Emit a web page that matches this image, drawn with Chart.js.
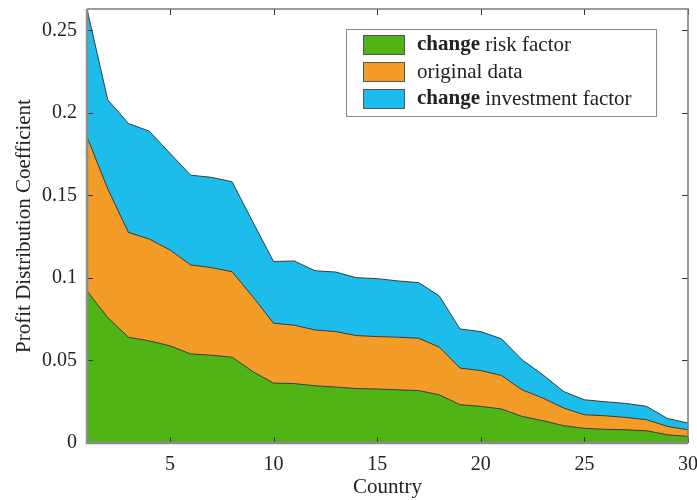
<!DOCTYPE html>
<html>
<head>
<meta charset="utf-8">
<script src="https://cdn.jsdelivr.net/npm/chart.js@4/dist/chart.umd.min.js"></script>
<style>
  html, body { margin: 0; padding: 0; background: #fff; }
</style>
</head>
<body>
<canvas id="c" width="697" height="500"></canvas>
<script>
const countries = [1,2,3,4,5,6,7,8,9,10,11,12,13,14,15,16,17,18,19,20,21,22,23,24,25,26,27,28,29,30];
const changeRiskFactor = [0.0921,0.076,0.0641,0.0619,0.0589,0.054,0.0532,0.052,0.0433,0.0363,0.036,0.0347,0.0339,0.033,0.0327,0.0322,0.0318,0.0292,0.0232,0.0222,0.0206,0.0161,0.0135,0.0105,0.0089,0.0083,0.008,0.0074,0.005,0.004];
const originalData = [0.1855,0.154,0.1276,0.1236,0.117,0.1079,0.1063,0.1038,0.0887,0.0726,0.0714,0.0685,0.0675,0.0651,0.0645,0.0641,0.0635,0.0581,0.0454,0.0439,0.0409,0.0322,0.0272,0.0212,0.0171,0.0165,0.0155,0.0141,0.0101,0.008];
const changeInvestmentFactor = [0.263,0.208,0.1936,0.189,0.1756,0.1623,0.161,0.1583,0.134,0.110,0.1103,0.1044,0.1036,0.1002,0.0996,0.0982,0.0972,0.0891,0.0691,0.0675,0.0631,0.0504,0.0413,0.0312,0.0262,0.025,0.024,0.0222,0.0149,0.0121];
const xTicks = [5,10,15,20,25,30];
const yTicks = [0,0.05,0.1,0.15,0.2,0.25];
const legendBold = ['change', '', 'change'];
const legendRest = ['risk factor', 'original data', 'investment factor'];
const seriesNames = ['change risk factor','original data','change investment factor'];
const colors = ['#50B414', '#F39C27', '#1CBDEA'];

const pts = arr => arr.map((v,i)=>({x:countries[i], y:v}));
const FAM = '"Liberation Serif", "Times New Roman", serif';
const font = { family: FAM };

const framePlugin = {
  id: 'frame',
  afterDraw(chart) {
    const {ctx, chartArea: a, scales} = chart;
    ctx.save();
    const L = 6;
    ctx.strokeStyle = '#333';
    ctx.lineWidth = 1;
    ctx.beginPath();
    xTicks.forEach(t => {
      const px = Math.round(scales.x.getPixelForValue(t)) + 0.5;
      ctx.moveTo(px, a.bottom); ctx.lineTo(px, a.bottom - L);
      ctx.moveTo(px, a.top); ctx.lineTo(px, a.top + L);
    });
    yTicks.forEach(t => {
      const py = Math.round(scales.y.getPixelForValue(t)) + 0.5;
      ctx.moveTo(a.left, py); ctx.lineTo(a.left + L, py);
      ctx.moveTo(a.right, py); ctx.lineTo(a.right - L, py);
    });
    ctx.stroke();
    ctx.strokeStyle = '#7a7a7a';
    ctx.lineWidth = 1.5;
    ctx.beginPath();
    ctx.moveTo(a.left, a.top); ctx.lineTo(a.right, a.top); ctx.lineTo(a.right, a.bottom);
    ctx.stroke();
    ctx.strokeStyle = '#8c8c8c';
    ctx.lineWidth = 2.5;
    ctx.beginPath();
    ctx.moveTo(a.left, a.top); ctx.lineTo(a.left, a.bottom); ctx.lineTo(a.right, a.bottom);
    ctx.stroke();

    // legend box
    const bx = 346.5, by = 29.5, bw = 310, bh = 87;
    ctx.fillStyle = '#fff';
    ctx.fillRect(bx, by, bw, bh);
    ctx.strokeStyle = '#8a8a8a';
    ctx.lineWidth = 1;
    ctx.strokeRect(bx, by, bw, bh);
    const rowsY = [35, 62, 89];
    rowsY.forEach((ry, i) => {
      ctx.fillStyle = colors[i];
      ctx.fillRect(363, ry, 42, 20);
      ctx.strokeStyle = '#555';
      ctx.strokeRect(363.5, ry + 0.5, 41, 19);
      ctx.fillStyle = '#222';
      ctx.textBaseline = 'middle';
      ctx.textAlign = 'left';
      let tx = 417;
      const cy = ry + 10;
      if (legendBold[i]) {
        ctx.font = 'bold 21px ' + FAM;
        ctx.fillText(legendBold[i], tx, cy);
        tx += ctx.measureText(legendBold[i] + ' ').width;
      }
      ctx.font = '21px ' + FAM;
      ctx.fillText(legendRest[i], tx, cy);
    });
    ctx.restore();
  }
};

const ds = (i, data) => ({
  label: seriesNames[i], data: pts(data), backgroundColor: colors[i], borderColor: '#3a3a3a', borderWidth: 1,
  fill: 'origin', pointRadius: 0, tension: 0
});

new Chart(document.getElementById('c'), {
  type: 'line',
  data: {
    datasets: [
      ds(0, changeRiskFactor),
      ds(1, originalData),
      ds(2, changeInvestmentFactor)
    ]
  },
  options: {
    responsive: false,
    animation: false,
    layout: { padding: { left: 0, right: 9, top: 9, bottom: 0 } },
    plugins: { legend: { display: false }, tooltip: { enabled: false } },
    scales: {
      x: {
        type: 'linear', min: 1, max: 30,
        afterBuildTicks: s => { s.ticks = xTicks.map(v => ({value: v})); },
        afterFit: s => { s.height = 57; s.paddingLeft = 0; s.paddingRight = 0; s.paddingTop = 0; s.paddingBottom = 0; },
        grid: { display: false, drawTicks: false },
        border: { display: false },
        ticks: { color: '#222', font: { ...font, size: 20 }, padding: 10, maxRotation: 0 },
        title: { display: true, text: 'Country', color: '#222', font: { ...font, size: 21 }, padding: { top: 0, bottom: 0 } }
      },
      y: {
        type: 'linear', min: 0, max: 0.263,
        afterBuildTicks: s => { s.ticks = yTicks.map(v => ({value: v})); },
        afterFit: s => { s.width = 87; s.paddingLeft = 0; s.paddingRight = 0; s.paddingTop = 0; s.paddingBottom = 0; },
        grid: { display: false, drawTicks: false },
        border: { display: false },
        ticks: { color: '#222', font: { ...font, size: 20 }, padding: 10, callback: v => String(v) },
        title: { display: true, text: 'Profit Distribution Coefficient', color: '#222', font: { ...font, size: 21 }, padding: { top: 12, bottom: 0 } }
      }
    }
  },
  plugins: [framePlugin]
});
</script>
</body>
</html>
